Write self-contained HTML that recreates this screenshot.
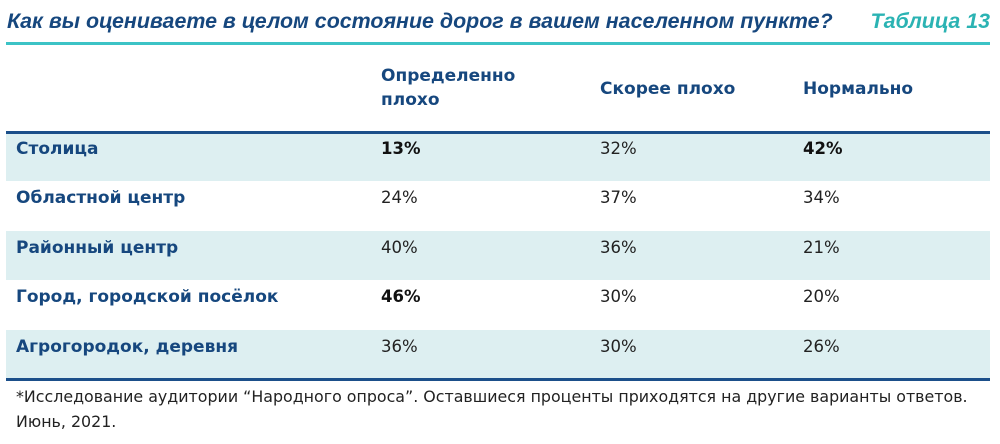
<!DOCTYPE html>
<html><head><meta charset="utf-8"><style>
body{margin:0;width:1000px;height:444px;background:#fff;font-family:"DejaVu Sans","Liberation Sans",sans-serif;position:relative;overflow:hidden}
.t{position:absolute;white-space:nowrap}
.title{left:7px;top:9px;font-size:21.4px;font-weight:bold;font-style:italic;color:#16477e;font-family:"Liberation Sans",sans-serif}
.tab{right:10px;top:9px;font-size:21.4px;font-weight:bold;font-style:italic;color:#2bb3b3;font-family:"Liberation Sans",sans-serif}
.line{position:absolute;left:6px;width:984px}
.row{position:absolute;left:6px;width:984px;height:49px}
.sh{background:#ddeff1}
.lab{font-size:17px;font-weight:bold;color:#16477e}
.v{font-size:16.5px;color:#222}
.b{font-weight:bold;color:#111}
.h{font-size:17px;font-weight:bold;color:#16477e;line-height:24px}
.f{font-size:15.85px;color:#222;left:16px}
</style></head><body>
<div class="t title">Как вы оцениваете в целом состояние дорог в вашем населенном пункте?</div>
<div class="t tab">Таблица 13</div>
<div class="line" style="top:42px;height:3px;background:#3cc3c6"></div>
<div class="t h" style="left:381px;top:64px">Определенно<br>плохо</div>
<div class="t h" style="left:600px;top:77px">Скорее плохо</div>
<div class="t h" style="left:803px;top:77px">Нормально</div>
<div class="row sh" style="top:132px"></div>
<div class="row sh" style="top:231px"></div>
<div class="row sh" style="top:330px"></div>
<div class="line" style="top:131px;height:3px;background:#1b4f8a"></div>
<div class="line" style="top:378px;height:3px;background:#1b4f8a"></div>

<div class="t lab" style="left:16px;top:139px">Столица</div>
<div class="t v b" style="left:381px;top:139px">13%</div>
<div class="t v" style="left:600px;top:139px">32%</div>
<div class="t v b" style="left:803px;top:139px">42%</div>

<div class="t lab" style="left:16px;top:188px">Областной центр</div>
<div class="t v" style="left:381px;top:188px">24%</div>
<div class="t v" style="left:600px;top:188px">37%</div>
<div class="t v" style="left:803px;top:188px">34%</div>

<div class="t lab" style="left:16px;top:238px">Районный центр</div>
<div class="t v" style="left:381px;top:238px">40%</div>
<div class="t v" style="left:600px;top:238px">36%</div>
<div class="t v" style="left:803px;top:238px">21%</div>

<div class="t lab" style="left:16px;top:287px">Город, городской посёлок</div>
<div class="t v b" style="left:381px;top:287px">46%</div>
<div class="t v" style="left:600px;top:287px">30%</div>
<div class="t v" style="left:803px;top:287px">20%</div>

<div class="t lab" style="left:16px;top:337px">Агрогородок, деревня</div>
<div class="t v" style="left:381px;top:337px">36%</div>
<div class="t v" style="left:600px;top:337px">30%</div>
<div class="t v" style="left:803px;top:337px">26%</div>

<div class="t f" style="top:387px">*Исследование аудитории “Народного опроса”. Оставшиеся проценты приходятся на другие варианты ответов.</div>
<div class="t f" style="top:412px">Июнь, 2021.</div>
</body></html>
